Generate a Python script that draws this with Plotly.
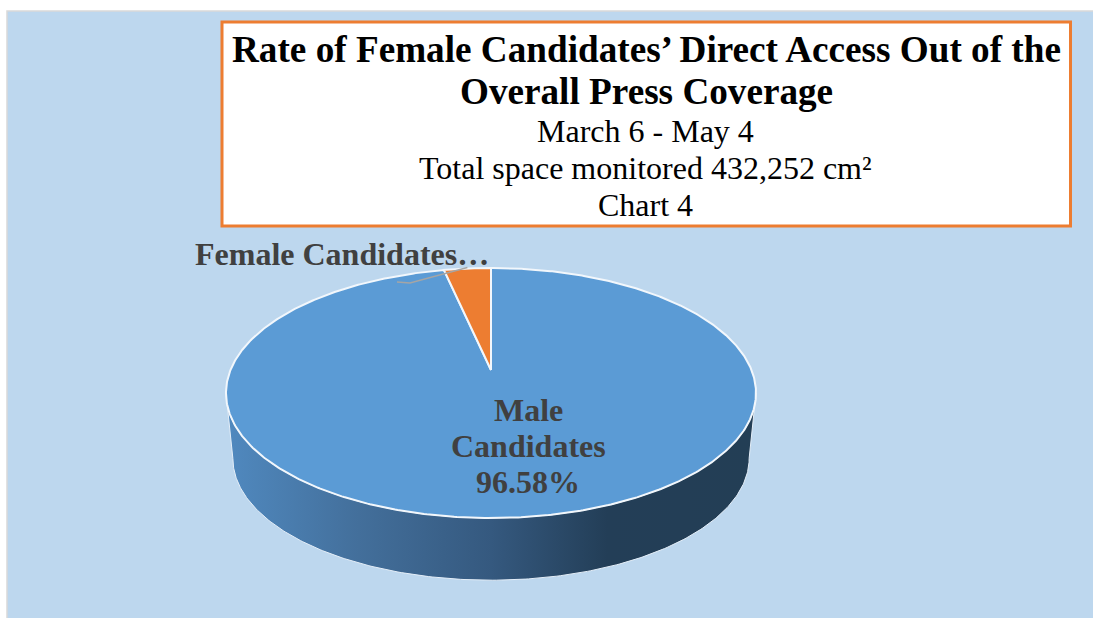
import numpy as np
import plotly.graph_objects as go

# Data
categories = ["Male Candidates", "Female Candidates"]
shares = [96.58, 3.42]
title_lines = ["Rate of Female Candidates’ Direct Access Out of the", "Overall Press Coverage"]
sub_lines = ["March 6 - May 4", "Total space monitored 432,252 cm²", "Chart 4"]
male_label = ["Male", "Candidates", "96.58%"]
female_label = "Female Candidates…"

# Geometry of the tilted disc (page pixels)
CX, CY = 491.0, 370.0
A, B, K = 120.8, 260.5, 0.184
SIDE_SCALE, SIDE_CY = 0.974, 436.0


def rim(theta, scale=1.0, cy=CY):
    """Perspective projection of a circle; theta clockwise from the top, in degrees."""
    t = np.radians(theta)
    d = 1 + K * np.cos(t)
    return CX + scale * B * np.sin(t) / d, cy - scale * A * np.cos(t) / d


fem_deg = shares[1] / sum(shares) * 360
fig = go.Figure()

# Side wall
widest = np.degrees(np.arccos(-K))
th = np.linspace(widest, 360 - widest, 240)
xt, yt = rim(th)
xb, yb = rim(th, SIDE_SCALE, SIDE_CY)
fig.add_trace(go.Scatter(
    x=np.r_[xt, xb[::-1], xt[0]], y=np.r_[yt, yb[::-1], yt[0]],
    mode="lines", fill="toself", line=dict(color="#e4eef8", width=1),
    fillgradient=dict(type="horizontal", colorscale=[
        [0, "#5089bf"], [0.25, "#436f9b"], [0.5, "#35597f"], [0.72, "#233e57"], [1, "#233e55"]]),
    hoverinfo="skip", showlegend=False))

# Top face, wedge sizes come from the shares
colors = ["#5b9bd5", "#ed7d31"]
spans = [(0, 360 - fem_deg), (360 - fem_deg, 360)]
for (a0, a1), c, name in zip(spans, colors, categories):
    th = np.linspace(a0, a1, max(8, int(a1 - a0) * 2))
    x, y = rim(th)
    fig.add_trace(go.Scatter(
        x=np.r_[CX, x, CX], y=np.r_[CY, y, CY], mode="lines", fill="toself",
        fillcolor=c, line=dict(color="#f2f7fc", width=2), name=name,
        hoverinfo="skip", showlegend=False))

# Leader line
lx, ly = rim(360 - fem_deg / 2)
fig.add_trace(go.Scatter(x=[397, 410, lx], y=[282, 283, ly - 1], mode="lines",
                         line=dict(color="#a5a5a5", width=1.5),
                         hoverinfo="skip", showlegend=False))

shapes = [
    dict(type="rect", x0=7, y0=11, x1=1094, y1=619, fillcolor="#bdd7ee",
         line=dict(color="#d9d9d9", width=1.5), layer="below"),
    dict(type="rect", x0=222, y0=22, x1=1070.5, y1=226, fillcolor="#ffffff",
         line=dict(color="#ed7d31", width=3), layer="below"),
]

SERIF = "Liberation Serif"


def label(text, x, y, size, color, bold=False):
    return dict(text=f"<b>{text}</b>" if bold else text, x=x, y=y, xref="x", yref="y",
                showarrow=False, xanchor="center", yanchor="middle",
                font=dict(family=SERIF, size=size, color=color))


annotations = [label(t, 646, y, 37.2, "#000000", True) for t, y in zip(title_lines, [49, 91])]
annotations += [label(t, 645.5, y, 32, "#000000") for t, y in zip(sub_lines, [131, 168, 205])]
annotations += [label(t, 528, y, 32, "#404040", True) for t, y in zip(male_label, [410, 446, 482])]
annotations.append(label(female_label, 342, 254, 32, "#404040", True))

fig.update_layout(
    width=1093, height=618, margin=dict(l=0, r=0, t=0, b=0),
    paper_bgcolor="#ffffff", plot_bgcolor="rgba(0,0,0,0)",
    xaxis=dict(range=[0, 1093], visible=False, fixedrange=True),
    yaxis=dict(range=[618, 0], visible=False, fixedrange=True),
    shapes=shapes, annotations=annotations,
)
fig.write_html("out.html", config=dict(displayModeBar=False),
               post_script="document.body.style.margin='0';document.body.style.overflow='hidden';")
